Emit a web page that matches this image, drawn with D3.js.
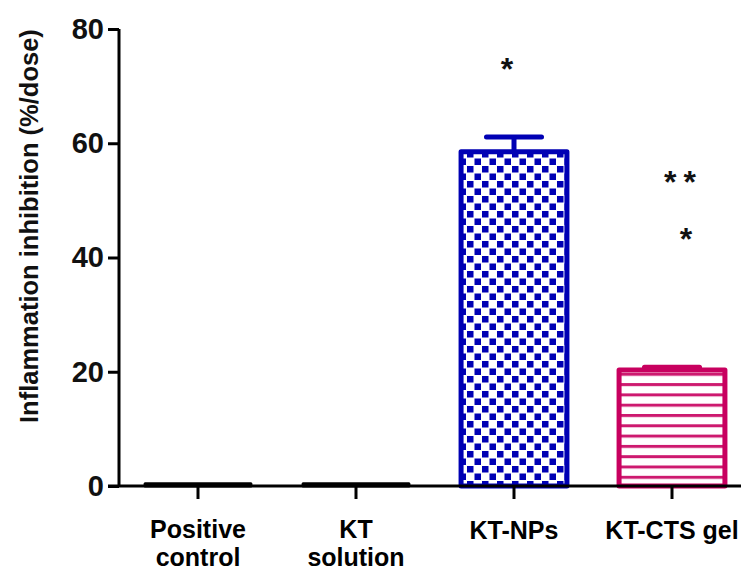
<!DOCTYPE html>
<html><head><meta charset="utf-8">
<script src="https://cdn.jsdelivr.net/npm/d3@7"></script>
<style>body{margin:0;background:#fff}svg{display:block}text{font-family:"Liberation Sans",Arial,sans-serif;font-weight:bold}</style>
</head><body>
<svg id="c" width="741" height="574"></svg>
<script>
const categories = [["Positive","control"],["KT","solution"],["KT-NPs"],["KT-CTS gel"]];
const values = [0.4, 0.4, 58.5, 20.3];
const errors = [0, 0, 2.6, 0.5];
const stars = [[],[],[{t:"*",v:73.9,dx:-7}],[{t:"**",v:54.1,dx:8},{t:"*",v:44.2,dx:14}]];
const yTicks = [0,20,40,60,80];
const yTitle = "Inflammation inhibition (%/dose)";

const svg = d3.select("#c");
const x = d3.scaleBand().domain(d3.range(categories.length)).range([119,751]).paddingInner(0.33).paddingOuter(0.165);
const y = d3.scaleLinear().domain([0,80]).range([486,29]);
const blue = "#0000b4", pink = "#c8005f";

const defs = svg.append("defs");
const cs = 7.5;
const ck = defs.append("pattern").attr("id","checker").attr("patternUnits","userSpaceOnUse").attr("width",2*cs).attr("height",2*cs).attr("x",1).attr("y",0);
ck.append("rect").attr("width",2*cs).attr("height",2*cs).attr("fill","#fff");
ck.append("rect").attr("x",1).attr("y",1).attr("width",cs-1).attr("height",cs-1).attr("fill",blue);
ck.append("rect").attr("x",cs+1).attr("y",cs+1).attr("width",cs-1).attr("height",cs-1).attr("fill",blue);
const st = defs.append("pattern").attr("id","stripes").attr("patternUnits","userSpaceOnUse").attr("width",10).attr("height",10.3).attr("y",2);
st.append("rect").attr("width",10).attr("height",10.3).attr("fill","#fff");
st.append("rect").attr("y",0).attr("width",10).attr("height",3).attr("fill",pink).attr("opacity",0.9);

const fills = ["#000","#000","url(#checker)","url(#stripes)"];
const strokes = ["#000","#000",blue,pink];

// error bars
categories.forEach((c,i)=>{
  if(!errors[i]) return;
  const cx = x(i)+x.bandwidth()/2;
  const w = x.bandwidth()*0.52;
  svg.append("line").attr("x1",cx).attr("x2",cx).attr("y1",y(values[i])).attr("y2",y(values[i]+errors[i])).attr("stroke",strokes[i]).attr("stroke-width",5);
  svg.append("line").attr("x1",cx-w/2).attr("x2",cx+w/2).attr("y1",y(values[i]+errors[i])).attr("y2",y(values[i]+errors[i])).attr("stroke",strokes[i]).attr("stroke-width",5).attr("stroke-linecap","round");
});

// bars
svg.selectAll("rect.bar").data(values).join("rect").attr("class","bar")
  .attr("x",(d,i)=>x(i)).attr("width",x.bandwidth())
  .attr("y",d=>y(d)).attr("height",d=>y(0)-y(d))
  .attr("fill",(d,i)=>fills[i]).attr("stroke",(d,i)=>strokes[i])
  .attr("stroke-width",(d,i)=>i<2?3:5).attr("stroke-linejoin","round");

// axes
const ya = svg.append("g").attr("transform","translate(119,0)")
  .call(d3.axisLeft(y).tickValues(yTicks).tickSize(11).tickPadding(4));
ya.selectAll("path,line").attr("stroke","#000").attr("stroke-width",3);
ya.select("path").attr("d",`M0,${y(80)}H0V${y(0)}`);
ya.selectAll("text").attr("font-size",29).attr("fill","#111").style("font-family","Liberation Sans, Arial").style("font-weight","bold");

const xa = svg.append("g").attr("transform",`translate(0,${y(0)})`)
  .call(d3.axisBottom(x).tickSize(13).tickFormat(""));
xa.selectAll("path,line").attr("stroke","#000").attr("stroke-width",3);
xa.select("path").attr("d","M108,0H741");
xa.selectAll(".tick").each(function(d){
  const t = d3.select(this).append("text").attr("fill","#000").attr("font-size",25).attr("text-anchor","middle");
  categories[d].forEach((s,k)=>t.append("tspan").attr("x",0).attr("y", categories[d].length>1 ? 52+k*28 : 53).text(s));
});

// significance stars
stars.forEach((arr,i)=>arr.forEach(s=>{
  svg.append("text").attr("x",x(i)+x.bandwidth()/2+s.dx).attr("y",y(s.v)).attr("dy","0.5em")
    .attr("text-anchor","middle").attr("font-size",32).attr("fill","#111")
    .attr("letter-spacing", s.t.length>1 ? 7 : 0).attr("dx", s.t.length>1 ? 3.5 : 0).text(s.t);
}));

// y title
svg.append("text").attr("transform",`translate(38,${y(45.5)}) rotate(-90)`).attr("text-anchor","middle")
  .attr("font-size",25.5).attr("fill","#111").text(yTitle);
</script>
</body></html>
